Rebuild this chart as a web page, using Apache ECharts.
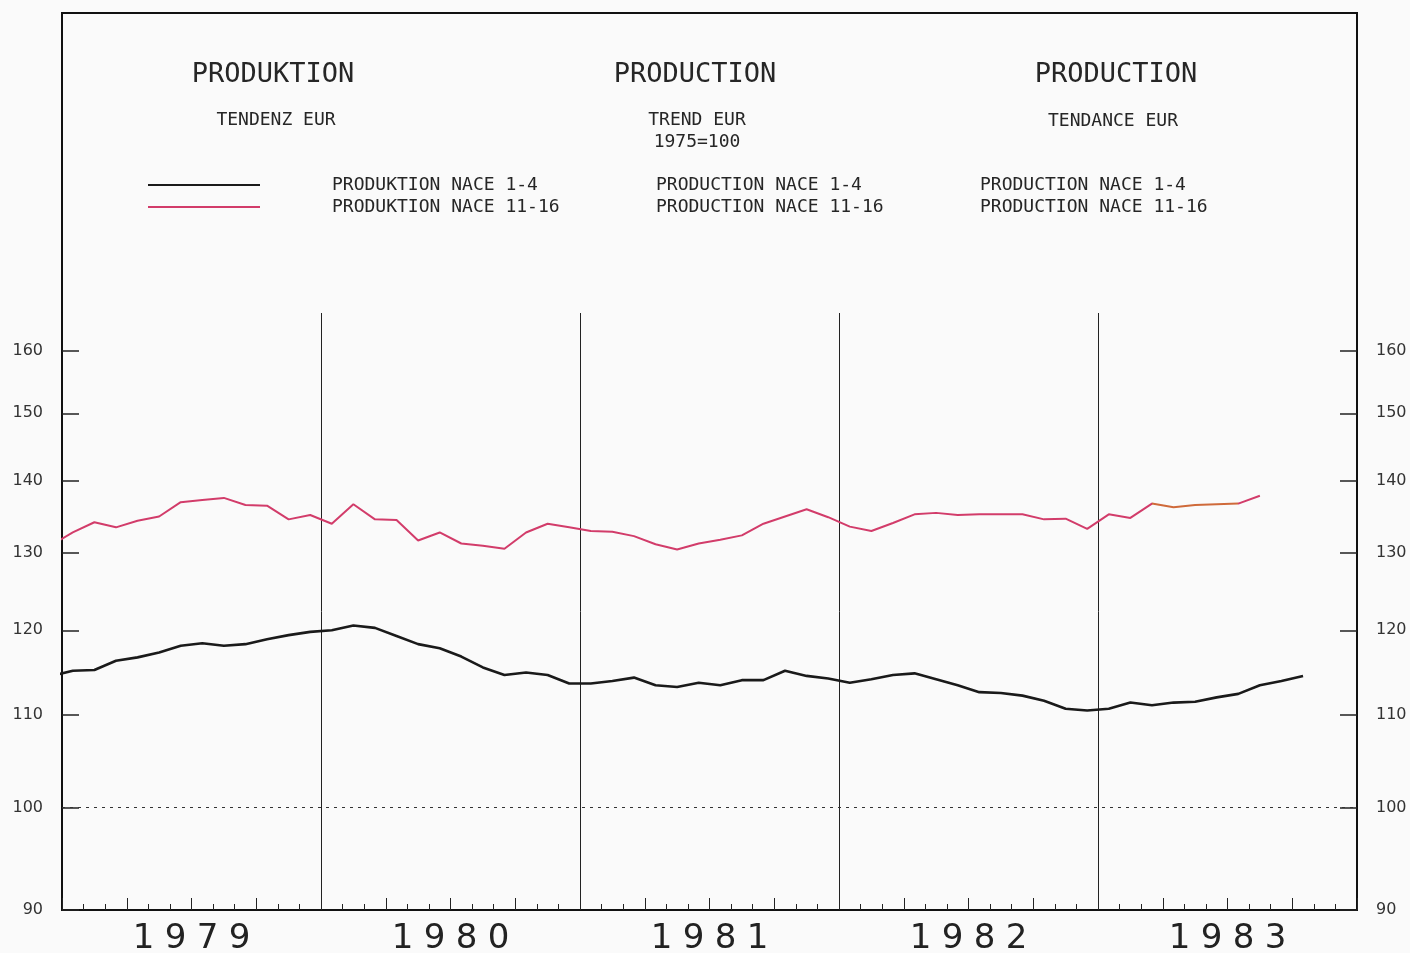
<!DOCTYPE html>
<html><head><meta charset="utf-8">
<script src="https://cdn.jsdelivr.net/npm/echarts@6/dist/echarts.min.js"></script>
<style>html,body{margin:0;padding:0;background:#fafafa}#c{width:1410px;height:953px}</style>
</head><body><div id="c"></div>
<script>
// ---- data ----
const months = ['1978-12',
 '1979-01','1979-02','1979-03','1979-04','1979-05','1979-06','1979-07','1979-08','1979-09','1979-10','1979-11','1979-12',
 '1980-01','1980-02','1980-03','1980-04','1980-05','1980-06','1980-07','1980-08','1980-09','1980-10','1980-11','1980-12',
 '1981-01','1981-02','1981-03','1981-04','1981-05','1981-06','1981-07','1981-08','1981-09','1981-10','1981-11','1981-12',
 '1982-01','1982-02','1982-03','1982-04','1982-05','1982-06','1982-07','1982-08','1982-09','1982-10','1982-11','1982-12',
 '1983-01','1983-02','1983-03','1983-04','1983-05','1983-06','1983-07','1983-08','1983-09','1983-10'];
const nace1_4 = [114.5,
 115.1,115.2,116.3,116.7,117.3,118.1,118.4,118.1,118.3,118.9,119.4,119.8,
 120.0,120.6,120.3,119.3,118.3,117.8,116.8,115.5,114.6,114.9,114.6,113.6,
 113.6,113.9,114.3,113.4,113.2,113.7,113.4,114.0,114.0,115.1,114.5,114.2,
 113.7,114.1,114.6,114.8,114.1,113.4,112.6,112.5,112.2,111.6,110.7,110.5,
 110.7,111.4,111.1,111.4,111.5,112.0,112.4,113.4,113.9,114.5];
const nace11_16 = [131.0,
 132.7,134.1,133.4,134.3,134.9,136.9,137.2,137.5,136.5,136.4,134.5,135.1,
 133.9,136.6,134.5,134.4,131.6,132.7,131.2,130.9,130.5,132.7,133.9,133.4,
 132.9,132.8,132.2,131.1,130.4,131.2,131.7,132.3,133.9,134.9,135.9,134.8,
 133.5,132.9,134.0,135.2,135.4,135.1,135.2,135.2,135.2,134.5,134.6,133.2,
 135.2,134.7,136.7,136.2,136.5,136.6,136.7,137.8];
const yearLabels = ['1979','1980','1981','1982','1983'];
const yTicks = [90,100,110,120,130,140,150,160];
const seriesNames = ['PRODUKTION NACE 1-4','PRODUKTION NACE 11-16'];
const seriesNamesEN = ['PRODUCTION NACE 1-4','PRODUCTION NACE 11-16'];
const seriesNamesFR = ['PRODUCTION NACE 1-4','PRODUCTION NACE 11-16'];

// month string -> position on the month axis (mid-month, 0 = start of 1979)
function monthPos(s){const p=s.split('-').map(Number);return (p[0]-1979)*12+(p[1]-1)+0.5;}

const chart = echarts.init(document.getElementById('c'));
const mono = 'DejaVu Sans Mono';
const txtCol = '#262626';
const baseX = {type:'value',min:0,max:60,position:'bottom',gridIndex:0,
  axisLine:{show:false,onZero:false},axisTick:{show:false},axisLabel:{show:false},splitLine:{show:false}};

function yAx(pos){
  return {type:'log',min:90,max:166.3,position:pos,
    axisLine:{show:true,onZero:false,lineStyle:{color:'#111',width:2}},
    axisTick:{show:true,inside:true,length:17,customValues:yTicks,lineStyle:{color:'#222',width:1.5}},
    axisLabel:{show:true,customValues:yTicks,margin:19,fontSize:16,color:'#333',fontFamily:'DejaVu Sans'},
    splitLine:{show:false}};
}

function txt(x,y,text,size,align){
  return {type:'text',x:x,y:y,style:{text:text,font:size+'px "'+mono+'"',fill:txtCol,
    align:align||'center',textAlign:align||'center',verticalAlign:'middle',textVerticalAlign:'middle'}};
}

const option = {
  animation:false,
  backgroundColor:'#fafafa',
  grid:{left:62,right:53,top:313,bottom:43,containLabel:false,outerBoundsMode:'none'},
  legend:{
    orient:'vertical',left:143,top:171,itemWidth:112,itemHeight:14,itemGap:4,
    icon:'path://M0,6L112,6L112,8L0,8Z',
    formatter:function(n){return '{s|}'+n;},
    textStyle:{fontFamily:mono,fontSize:18,color:txtCol,lineHeight:14,rich:{s:{width:67}}},
    data:seriesNames
  },
  visualMap:{type:'piecewise',show:false,seriesIndex:1,dimension:0,
    pieces:[{lt:50.5,color:'#d23c6a'},{gte:50.5,lte:54.5,color:'#cf6a3a'},{gt:54.5,color:'#d23c6a'}]},
  xAxis:[
    Object.assign({},baseX,{interval:1,axisLine:{show:true,onZero:false,lineStyle:{color:'#111',width:2}},
      axisTick:{show:true,inside:true,length:6,lineStyle:{color:'#222',width:1}}}),
    Object.assign({},baseX,{interval:3,axisTick:{show:true,inside:true,length:12,lineStyle:{color:'#222',width:1}}}),
    Object.assign({},baseX,{interval:12,splitLine:{show:true,lineStyle:{color:'#222',width:1}}}),
    Object.assign({},baseX,{interval:6,axisLabel:{show:true,margin:12,
      formatter:function(v){ if(v%12!==6) return ''; return yearLabels[(v-6)/12].split('').map(function(c){return '{d|'+c+'}';}).join(''); },
      rich:{d:{width:32,align:'center',fontSize:34,fontFamily:'DejaVu Sans',color:'#222'}}}})
  ],
  yAxis:[yAx('left'),yAx('right')],
  series:[
    {name:seriesNames[0],type:'line',xAxisIndex:0,yAxisIndex:0,showSymbol:false,symbol:'none',
     color:'#1a1a1a',lineStyle:{color:'#1a1a1a',width:2.6},
     data:nace1_4.map(function(v,i){return [monthPos(months[i]),v];}),
     markLine:{silent:true,symbol:['none','none'],label:{show:false},
       lineStyle:{color:'#333',type:[3,5],width:1},data:[{yAxis:100}]}},
    {name:seriesNames[1],type:'line',xAxisIndex:0,yAxisIndex:0,showSymbol:false,symbol:'none',
     color:'#d23c6a',lineStyle:{width:2},
     data:nace11_16.map(function(v,i){return [monthPos(months[i]),v];})}
  ],
  graphic:[
    {type:'rect',shape:{x:62,y:13,width:1295,height:897},style:{fill:'none',stroke:'#111',lineWidth:2},silent:true},
    txt(273,75,'PRODUKTION',27),
    txt(276,120,'TENDENZ EUR',18),
    txt(695,75,'PRODUCTION',27),
    txt(697,120,'TREND EUR',18),
    txt(697,142,'1975=100',18),
    txt(1116,75,'PRODUCTION',27),
    txt(1113,121,'TENDANCE EUR',18),
    txt(656,185,seriesNamesEN[0],18,'left'),
    txt(656,207,seriesNamesEN[1],18,'left'),
    txt(980,185,seriesNamesFR[0],18,'left'),
    txt(980,207,seriesNamesFR[1],18,'left')
  ]
};
chart.setOption(option);
</script></body></html>
